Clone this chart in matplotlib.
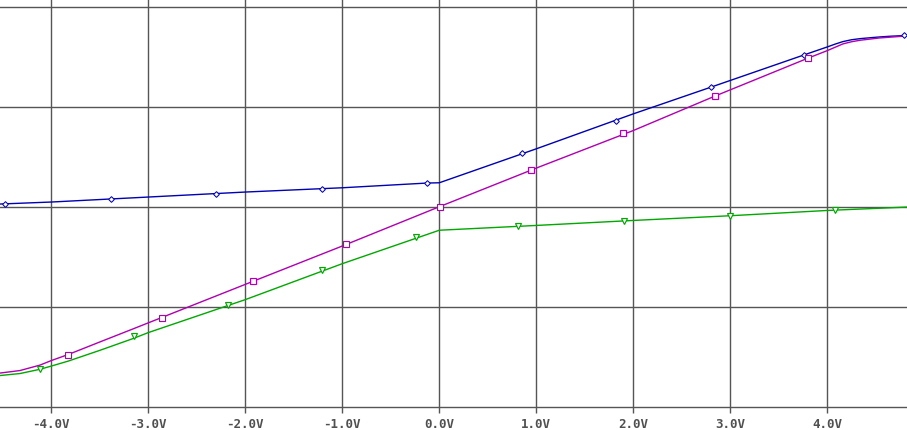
import numpy as np
import matplotlib
matplotlib.use('Agg')
import matplotlib.pyplot as plt

blue_x = [-4.529, -4.0, -3.0, -2.0, -1.0, -0.127, 0.0, 1.0, 2.0, 2.80, 3.76,
          4.0, 4.08, 4.16, 4.25, 4.34, 4.45, 4.54, 4.65, 4.78, 4.82]
blue_y = [0.068, 0.118, 0.243, 0.368, 0.475, 0.593, 0.60, 1.45, 2.325, 2.993, 3.80,
          4.0, 4.07, 4.133, 4.18, 4.208, 4.232, 4.25, 4.268, 4.283, 4.29]

mag_x = [-4.529, -4.323, -4.116, -4.0, -3.825, -3.498, -3.158, -2.862, -2.0, -1.0,
         0.0, 1.0, 2.0, 2.84, 3.80, 4.0, 4.16, 4.25, 4.34, 4.54, 4.78]
mag_y = [-4.163, -4.10, -3.963, -3.85, -3.698, -3.383, -3.058, -2.773, -1.943, -0.983,
         0.0, 0.968, 1.908, 2.768, 3.718, 3.908, 4.075, 4.13, 4.168, 4.225, 4.268]

grn_x = [-4.529, -4.323, -4.116, -4.0, -3.825, -3.498, -3.158, -3.0, -2.0, -1.0,
         0.0, 1.0, 2.0, 3.0, 4.0, 4.822]
grn_y = [-4.225, -4.175, -4.068, -3.988, -3.863, -3.593, -3.30, -3.15, -2.325, -1.425,
         -0.588, -0.468, -0.343, -0.225, -0.093, -0.008]

# marker positions as plotted
blue_mx = [-4.477, -3.385, -2.302, -1.206, -0.127, 0.856, 1.825, 2.801, 3.763, 4.794]
blue_my = [0.068, 0.193, 0.32, 0.443, 0.593, 1.343, 2.143, 2.993, 3.80, 4.30]
mag_mx = [-3.825, -2.862, -1.918, -0.959, 0.007, 0.948, 1.894, 2.845, 3.804]
mag_my = [-3.70, -2.783, -1.858, -0.933, 0.0, 0.925, 1.843, 2.768, 3.718]
grn_mx = [-4.116, -3.144, -2.178, -1.206, -0.240, 0.811, 1.907, 3.0, 4.082]
grn_my = [-4.068, -3.233, -2.45, -1.593, -0.768, -0.475, -0.35, -0.225, -0.075]

xticks = [-4, -3, -2, -1, 0, 1, 2, 3, 4]
xlabels = ['-4.0V', '-3.0V', '-2.0V', '-1.0V', '0.0V', '1.0V', '2.0V', '3.0V', '4.0V']
ygrid = [-2.5, 0.0, 2.5, 5.0]

W, H = 907, 431
fig = plt.figure(figsize=(W / 100, H / 100), dpi=100)
ax = fig.add_axes([0, 23.5 / H, 1, 1 - 23.5 / H])
ax.set_xlim(-4.529, 4.822)
ax.set_ylim(-5.0, 5.2)

gc = '#555555'
for x in xticks:
    ax.axvline(x, color=gc, lw=1.0, zorder=1)
for y in ygrid:
    ax.axhline(y, color=gc, lw=1.0, zorder=1)

blue, mag, grn = '#0000b4', '#b000b0', '#00a800'
ax.plot(blue_x, blue_y, color=blue, lw=1.0, zorder=3)
ax.plot(mag_x, mag_y, color=mag, lw=1.0, zorder=3)
ax.plot(grn_x, grn_y, color=grn, lw=1.0, zorder=3)
ax.plot(blue_mx, blue_my, ls='none', marker='D', ms=2.9, mfc='white',
        mec=blue, mew=0.75, zorder=4)
ax.plot(mag_mx, mag_my, ls='none', marker='s', ms=4.0, mfc='white',
        mec=mag, mew=0.85, zorder=4)
ax.plot(grn_mx, grn_my, ls='none', marker='v', ms=4.6, mfc='white',
        mec=grn, mew=0.85, zorder=4)

for s in ['left', 'right', 'top']:
    ax.spines[s].set_visible(False)
ax.spines['bottom'].set_color(gc)
ax.spines['bottom'].set_linewidth(1.0)
ax.set_yticks([])
ax.set_xticks(xticks)
ax.set_xticklabels(xlabels, family='DejaVu Sans Mono', fontsize=9,
                   fontweight='bold', color='#505050')
ax.tick_params(axis='x', direction='out', length=4, width=1.0, color=gc, pad=3.5)

fig.savefig('out.png', dpi=100)
